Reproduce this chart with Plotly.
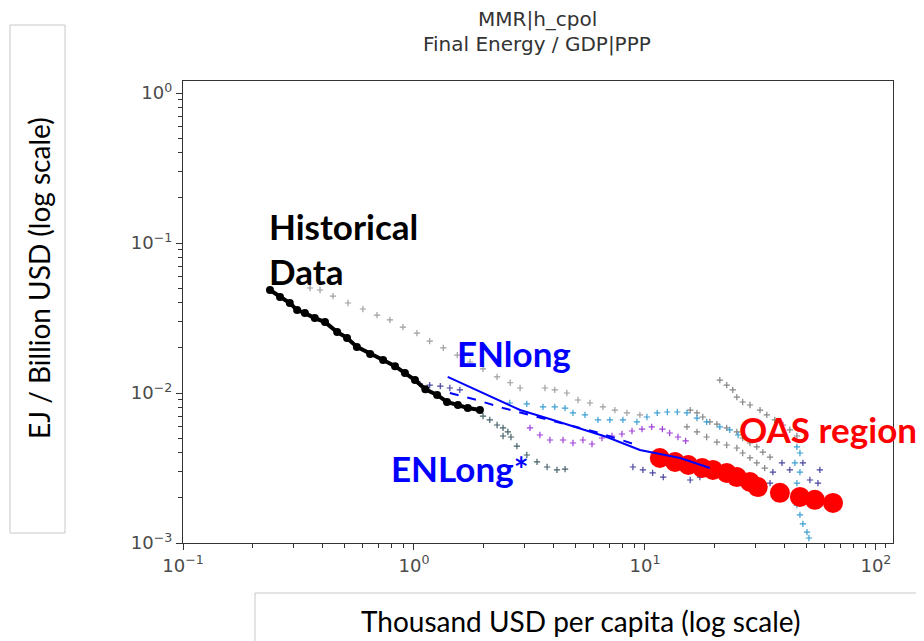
import plotly.graph_objects as go

# ---------------- data ----------------
hist_x = [0.238, 0.263, 0.290, 0.312, 0.337, 0.372, 0.412, 0.465, 0.513, 0.566, 0.646,
          0.735, 0.828, 0.914, 1.01, 1.12, 1.26, 1.39, 1.55, 1.71, 1.93]
hist_y = [0.0486, 0.0436, 0.0398, 0.0357, 0.0341, 0.0316, 0.0297, 0.0255, 0.0233, 0.0203, 0.0182,
          0.0166, 0.0151, 0.0136, 0.0122, 0.0106, 0.0097, 0.00871, 0.00832, 0.00794, 0.0077]

oas_x = [11.6, 13.5, 15.4, 17.7, 19.7, 22.6, 25.0, 28.5, 30.8, 38.4, 46.9, 54.4, 65.2]
oas_y = [0.00369, 0.00347, 0.00331, 0.00316, 0.00307, 0.00293, 0.00275, 0.00255, 0.00236,
         0.00216, 0.00203, 0.00194, 0.00185]

enlong_x = [1.40, 2.07, 2.88, 4.00, 6.84, 9.51, 14.2, 19.1]
enlong_y = [0.0128, 0.0097, 0.0077, 0.00661, 0.00509, 0.00417, 0.00369, 0.00316]

enlong_star_x = [1.43, 1.87, 2.43, 3.18, 4.16, 6.38, 9.51]
enlong_star_y = [0.0100, 0.00898, 0.00794, 0.00714, 0.00641, 0.00541, 0.00443]

lgray_x = [0.355, 0.392, 0.446, 0.518, 0.601, 0.692, 0.787, 0.896, 1.03, 1.17, 1.34, 1.54, 1.75,
           1.99, 2.29, 2.61, 2.88, 3.69, 4.07, 4.59, 5.13, 5.78, 6.58, 7.41, 8.36, 9.51]
lgray_y = [0.0501, 0.0486, 0.0443, 0.0398, 0.0363, 0.0331, 0.0307, 0.0275, 0.0251, 0.0222, 0.0200,
           0.0179, 0.0161, 0.0145, 0.0128, 0.0117, 0.0108, 0.0108, 0.0105, 0.0100, 0.00898, 0.00858,
           0.00807, 0.0077, 0.00736, 0.00714]

cyan_x = [2.60, 3.08, 3.62, 4.07, 4.51, 4.88, 5.50, 6.26, 7.05, 8.03, 9.23, 10.2, 11.3, 12.5, 13.8,
          15.2, 16.8, 18.5, 21.1, 23.3, 25.3, 45.5, 46.9, 44.6, 46.9, 45.5, 46.9, 45.5, 46.9, 48.3,
          50.3, 51.3]
cyan_y = [0.00858, 0.00845, 0.00807, 0.00807, 0.00794, 0.00736, 0.00714, 0.00661, 0.00661, 0.00661,
          0.00641, 0.00692, 0.00736, 0.00747, 0.00747, 0.00736, 0.00681, 0.00641, 0.00594, 0.00567,
          0.00525, 0.00437, 0.00398, 0.00342, 0.00297, 0.00251, 0.00209, 0.00179, 0.00154, 0.00134,
          0.00118, 0.00108]

purple_x = [3.18, 3.51, 3.88, 4.42, 4.88, 5.39, 5.90, 6.52, 7.20, 7.95, 8.79, 9.71, 10.7, 11.9,
            12.8, 13.9, 15.0]
purple_y = [0.00585, 0.00525, 0.00486, 0.00486, 0.00464, 0.00486, 0.00457, 0.00501, 0.00517,
            0.00533, 0.00558, 0.00575, 0.00594, 0.00575, 0.00541, 0.00509, 0.00479]

slate_x = [1.99, 2.13, 2.29, 2.43, 2.55, 2.43, 2.63, 2.79, 3.08, 3.41, 3.77, 4.16, 4.51]
slate_y = [0.00702, 0.00661, 0.00612, 0.00585, 0.0055, 0.00517, 0.00509, 0.00443, 0.00386,
           0.00347, 0.00321, 0.00307, 0.00311]

indigo_x = [1.06, 1.17, 1.30, 1.43, 1.58, 8.87, 9.80, 10.8, 12.0, 15.7, 17.3, 34.8, 35.8, 39.2,
            42.4, 48.3, 51.8, 56.1, 57.2]
indigo_y = [0.0115, 0.0113, 0.0111, 0.0108, 0.0105, 0.00321, 0.00307, 0.00293, 0.00275, 0.00263,
            0.00275, 0.00251, 0.00297, 0.00342, 0.00307, 0.00342, 0.00263, 0.00251, 0.00307]

gray1_x = [21.1, 22.6, 24.0, 25.0, 26.5, 28.5, 31.5, 33.7, 36.5, 39.6, 42.4, 45.5]
gray1_y = [0.0122, 0.0113, 0.0105, 0.0094, 0.00871, 0.00832, 0.0077, 0.00714, 0.00661, 0.00612,
           0.00567, 0.00517]
gray2_x = [15.7, 16.8, 17.8, 19.1, 20.5, 22.6, 25.0, 26.5, 28.5, 30.5, 32.4, 34.8]
gray2_y = [0.0077, 0.00736, 0.00692, 0.00641, 0.00621, 0.00585, 0.0055, 0.00501, 0.00464, 0.00437,
           0.00404, 0.00374]
gray3_x = [15.2, 16.8, 18.5, 20.5, 22.6, 25.0, 26.5, 28.5, 30.5, 33.0]
gray3_y = [0.00594, 0.0055, 0.00509, 0.00471, 0.0045, 0.0043, 0.00398, 0.00369, 0.00342, 0.00316]

x_tick_vals = [0.1, 1, 10, 100]
x_tick_text = ["10<sup>\u22121</sup>", "10<sup>0</sup>", "10<sup>1</sup>", "10<sup>2</sup>"]
y_tick_vals = [0.001, 0.01, 0.1, 1]
y_tick_text = ["10<sup>\u22123</sup>", "10<sup>\u22122</sup>", "10<sup>\u22121</sup>", "10<sup>0</sup>"]

title_lines = ["MMR|h_cpol", "Final Energy / GDP|PPP"]
x_title = "Thousand USD per capita (log scale)"
y_title = "EJ / Billion USD (log scale)"

# ---------------- figure ----------------
fig = go.Figure()


def plus_series(x, y, color, size=4.5):
    fig.add_trace(go.Scatter(
        x=x, y=y, mode="markers",
        marker=dict(symbol="cross-thin", size=size, color=color,
                    line=dict(width=1.2, color=color)),
        showlegend=False, hoverinfo="skip"))


plus_series(lgray_x, lgray_y, "#a0a0a0")
plus_series(gray1_x, gray1_y, "#858585")
plus_series(gray2_x, gray2_y, "#858585")
plus_series(gray3_x, gray3_y, "#858585")
plus_series(cyan_x, cyan_y, "#3d9fd3")
plus_series(purple_x, purple_y, "#a040d8")
plus_series(slate_x, slate_y, "#46636a")
plus_series(indigo_x, indigo_y, "#4a46a0")

fig.add_trace(go.Scatter(
    x=hist_x, y=hist_y, mode="lines+markers",
    line=dict(color="black", width=4),
    marker=dict(symbol="circle", size=8, color="black"),
    showlegend=False))

fig.add_trace(go.Scatter(
    x=oas_x, y=oas_y, mode="markers",
    marker=dict(symbol="circle", size=20, color="#ff0000"),
    showlegend=False))

fig.add_trace(go.Scatter(
    x=enlong_star_x, y=enlong_star_y, mode="lines",
    line=dict(color="#0000ff", width=2, dash="dash"),
    showlegend=False))

fig.add_trace(go.Scatter(
    x=enlong_x, y=enlong_y, mode="lines",
    line=dict(color="#0000ff", width=2),
    showlegend=False))

axis_common = dict(
    type="log", showgrid=False, zeroline=False,
    showline=True, mirror=True, linecolor="#333333", linewidth=1.3,
    ticks="outside", ticklen=6, tickwidth=1.2, tickcolor="#333333",
    tickmode="array",
    tickfont=dict(family="DejaVu Sans", size=18, color="#4a4a4a"),
)

minor_vals_x = [m * 10 ** e for e in (-1, 0, 1) for m in range(2, 10)] + [110]
minor_vals_y = [m * 10 ** e for e in (-3, -2, -1, 0) for m in range(2, 10)]

fig.update_xaxes(**axis_common, range=[-1, 2.074],
                 tickvals=x_tick_vals, ticktext=x_tick_text,
                 minor=dict(ticks="outside", ticklen=3.5, tickwidth=1, tickcolor="#333333",
                            tickmode="array", tickvals=minor_vals_x, showgrid=False))
fig.update_yaxes(**axis_common, range=[-3, 0.08],
                 tickvals=y_tick_vals, ticktext=y_tick_text,
                 minor=dict(ticks="outside", ticklen=3.5, tickwidth=1, tickcolor="#333333",
                            tickmode="array", tickvals=minor_vals_y, showgrid=False))

# page has an 8px body margin; figure is sized so window == reference
OFF = 8
W, H = 924 - OFF, 641 - OFF
PW, PH = 710, 462
L, T = 183 - OFF, 81 - OFF
B = H - T - PH


def px_x(p):
    return (p - OFF - L) / PW


def px_y(p):
    return (H - B - (p - OFF)) / PH


def ann(text, x, y, font, xanchor="center", **kw):
    return dict(text=text, x=px_x(x), y=px_y(y), xref="paper", yref="paper",
                xanchor=xanchor, yanchor="middle", showarrow=False, font=font,
                borderpad=0, **kw)


title_font = dict(family="DejaVu Sans", size=20, color="#333333")
bold = dict(family="Lato", size=35, weight="bold")

annotations = [
    ann(title_lines[0], 537, 19, title_font),
    ann(title_lines[1], 537, 44, title_font),
    ann("Historical", 268, 226, dict(bold, color="black"), xanchor="left"),
    ann("Data", 268, 271, dict(bold, color="black"), xanchor="left"),
    ann("ENlong", 456, 353, dict(bold, color="#0000ff"), xanchor="left"),
    ann("ENLong*", 390, 468, dict(bold, color="#0000ff"), xanchor="left"),
    ann("OAS region", 738, 429, dict(bold, color="#ff0000"), xanchor="left"),
    ann(y_title, 39, 278, dict(family="Lato", size=28, color="black"), textangle=-90),
    ann(x_title, 581, 621, dict(family="Lato", size=28, color="black")),
]

shapes = [
    dict(type="rect", xref="paper", yref="paper", x0=px_x(10), x1=px_x(65), y0=px_y(533), y1=px_y(25),
         line=dict(color="#c8c8c8", width=1)),
    dict(type="rect", xref="paper", yref="paper", x0=px_x(255), x1=px_x(940), y0=px_y(660), y1=px_y(593),
         line=dict(color="#c8c8c8", width=1)),
]

fig.update_layout(
    width=W, height=H,
    margin=dict(l=L, r=W - L - PW, t=T, b=B),
    paper_bgcolor="white", plot_bgcolor="white",
    annotations=annotations, shapes=shapes,
    showlegend=False,
)

fig.write_html("out.html")
